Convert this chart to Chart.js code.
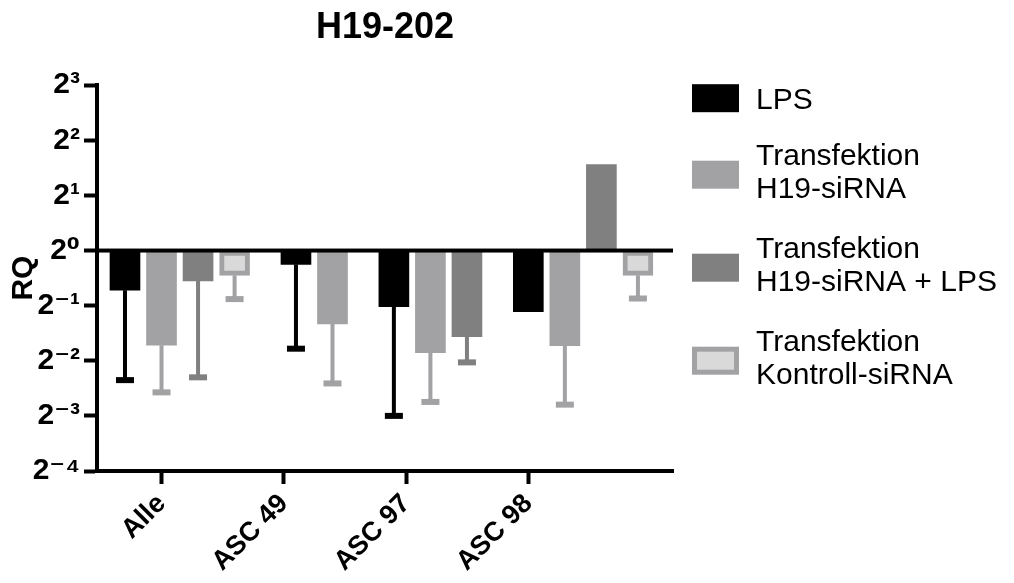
<!DOCTYPE html>
<html>
<head>
<meta charset="utf-8">
<script src="https://cdn.jsdelivr.net/npm/chart.js@4.4.0/dist/chart.umd.min.js"></script>
<style>
  html, body { margin: 0; padding: 0; background: #fff; }
</style>
</head>
<body>
<canvas id="chart" width="1014" height="583"></canvas>
<script>
const categories = ["Alle", "ASC 49", "ASC 97", "ASC 98"];
const seriesLabels = [
  ["LPS"],
  ["Transfektion", "H19-siRNA"],
  ["Transfektion", "H19-siRNA + LPS"],
  ["Transfektion", "Kontroll-siRNA"],
];

// RQ per group (bars start at RQ = 1)
const lps = [0.607, 0.841, 0.493, 0.463];
const h19 = [0.304, 0.398, 0.277, 0.302];
const h19Lps = [0.683, null, 0.339, 2.95];
const kontroll = [0.732, null, null, 0.732];

// RQ where each error bar ends
const lpsErr = [0.196, 0.291, 0.125, null];
const h19Err = [0.168, 0.188, 0.149, 0.144];
const h19LpsErr = [0.203, null, 0.245, null];
const kontrollErr = [0.543, null, null, 0.547];

const yExponents = [-4, -3, -2, -1, 0, 1, 2, 3];

const FONT = "'Liberation Sans', 'DejaVu Sans', Arial, sans-serif";
Chart.defaults.font.family = FONT;
Chart.defaults.color = "#000";

// bars of one group sit side by side, missing ones are left out (as in the prism plot)
const series = [lps, h19, h19Lps, kontroll];
const errors = [lpsErr, h19Err, h19LpsErr, kontrollErr];
const GROUP_GAP = 0.68;
const slots = series.map(() => []);
const groupStart = [];
let next = 0;
categories.forEach((c, j) => {
  groupStart.push(next);
  series.forEach((s, i) => {
    if (s[j] != null) slots[i][j] = next++;
  });
  next += GROUP_GAP;
});
// category ticks are evenly spaced, from the 2nd bar of the first group to the start of the last one
const tickFrom = groupStart[0] + 1;
const tickTo = groupStart[groupStart.length - 1];
const tickSlots = categories.map((c, j) => tickFrom + (tickTo - tickFrom) * j / (categories.length - 1));

function points(i) {
  return series[i]
    .map((v, j) => ({ x: slots[i][j], y: v, err: errors[i][j] }))
    .filter((p) => p.y != null);
}

const SUP = { "0": "\u2070", "1": "\u00b9", "2": "\u00b2", "3": "\u00b3", "4": "\u2074", "-": "\u207b" };
function pow2Label(v) {
  let e = String(Math.round(Math.log2(v)));
  return "2" + e.split("").map((c) => SUP[c]).join("");
}

const errorBars = {
  id: "errorBars",
  afterDatasetsDraw(chart) {
    const { ctx, chartArea, scales } = chart;
    const y = scales.y;
    ctx.save();
    chart.data.datasets.forEach((ds, i) => {
      const meta = chart.getDatasetMeta(i);
      ds.data.forEach((p, k) => {
        if (p.err == null) return;
        const bar = meta.data[k];
        const yEnd = y.getPixelForValue(p.err);
        ctx.fillStyle = ds.errorColor;
        ctx.fillRect(bar.x - 2, Math.min(bar.y, yEnd), 4, Math.abs(yEnd - bar.y));
        ctx.fillRect(bar.x - 9, yEnd - 3, 18, 6);
      });
    });
    // line at RQ = 1
    const y0 = y.getPixelForValue(1);
    ctx.fillStyle = "#000";
    ctx.fillRect(chartArea.left, y0 - 2, chartArea.right - chartArea.left, 4);
    ctx.restore();
  },
};

const sideLegend = {
  id: "sideLegend",
  afterDraw(chart) {
    const { ctx, chartArea } = chart;
    const lineH = 33;
    const gap = 27;
    const boxX = chartArea.right + 19;
    const textX = boxX + 64;
    let center = chartArea.top + 13;
    let prevH = 0;
    ctx.save();
    ctx.font = "30px " + FONT;
    ctx.textBaseline = "alphabetic";
    chart.data.datasets.forEach((ds, i) => {
      const lines = ds.label;
      const h = lines.length * lineH;
      if (i > 0) center += prevH / 2 + gap + h / 2;
      prevH = h;
      const top = center - 14;
      if (ds.borderWidth) {
        ctx.fillStyle = ds.borderColor;
        ctx.fillRect(boxX, top, 47, 28);
        ctx.fillStyle = ds.backgroundColor;
        ctx.fillRect(boxX + 5, top + 5, 37, 18);
      } else {
        ctx.fillStyle = ds.backgroundColor;
        ctx.fillRect(boxX, top, 47, 28);
      }
      ctx.fillStyle = "#000";
      const shift = lines.length > 1 ? -4 : 0;
      lines.forEach((line, k) => {
        const mid = center + (k - (lines.length - 1) / 2) * lineH + shift;
        ctx.fillText(line, textX, mid + 10.5);
      });
    });
    ctx.restore();
  },
};

new Chart(document.querySelector("#chart"), {
  type: "bar",
  data: {
    datasets: [
      { label: seriesLabels[0], data: points(0), backgroundColor: "#000000", errorColor: "#000000" },
      { label: seriesLabels[1], data: points(1), backgroundColor: "#a2a2a5", errorColor: "#a2a2a5" },
      { label: seriesLabels[2], data: points(2), backgroundColor: "#808080", errorColor: "#808080" },
      {
        label: seriesLabels[3], data: points(3), backgroundColor: "#d9d9d9",
        borderColor: "#a2a2a5", borderWidth: 5, borderSkipped: false, errorColor: "#a2a2a5",
      },
    ],
  },
  options: {
    responsive: false,
    animation: false,
    events: [],
    layout: { padding: { left: 0, right: 341, top: 0, bottom: 0 } },
    datasets: { bar: { base: 1, grouped: false, barThickness: 30 } },
    plugins: {
      legend: { display: false },
      tooltip: { enabled: false },
      title: {
        display: true,
        text: "H19-202",
        fullSize: false,
        color: "#000",
        font: { size: 36, weight: "bold" },
        padding: { top: 6, bottom: 36 },
      },
    },
    scales: {
      x: {
        type: "linear",
        offset: false,
        min: -0.766,
        max: 15.0,
        afterBuildTicks: (s) => { s.ticks = tickSlots.map((v) => ({ value: v })); },
        grid: { offset: false, drawOnChartArea: false, tickLength: 13, tickWidth: 4, tickColor: "#000" },
        border: { color: "#000", width: 4 },
        ticks: {
          autoSkip: false, minRotation: 45, maxRotation: 45, color: "#000",
          callback: (v, idx) => categories[idx],
          font: { size: 27, weight: "bold" }, padding: 4,
        },
        afterFit: (s) => { s.height = 112; },
      },
      y: {
        type: "logarithmic",
        min: Math.pow(2, -4),
        max: Math.pow(2, 3),
        afterBuildTicks: (s) => { s.ticks = yExponents.map((e) => ({ value: Math.pow(2, e) })); },
        grid: { drawOnChartArea: false, tickLength: 13, tickWidth: 4, tickColor: "#000" },
        border: { color: "#000", width: 4 },
        ticks: { autoSkip: false, callback: (v) => pow2Label(v), color: "#000", font: { size: 30, weight: "bold" }, padding: 4 },
        title: { display: true, text: "RQ", color: "#000", font: { size: 30, weight: "bold" }, padding: { top: 6, bottom: 0 } },
        afterFit: (s) => { s.width = 97; },
      },
    },
  },
  plugins: [errorBars, sideLegend],
});
</script>
</body>
</html>
